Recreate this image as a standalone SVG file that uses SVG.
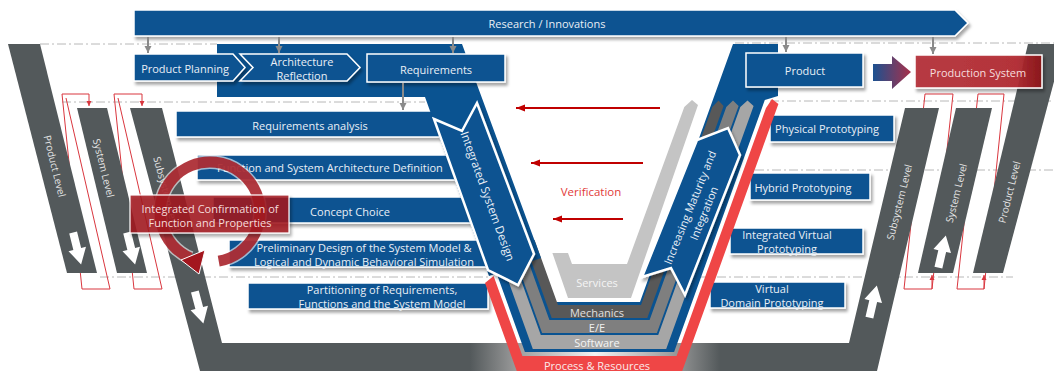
<svg xmlns="http://www.w3.org/2000/svg" width="1054" height="371" viewBox="0 0 1054 371">
<defs>
<style>
.t{font-family:"Open Sans","Noto Sans","DejaVu Sans",sans-serif;font-size:11px;fill:#e9eff6;text-anchor:middle;dominant-baseline:central}
.lv{font-family:"Open Sans","Noto Sans","DejaVu Sans",sans-serif;font-size:10px;fill:#e6e6e6;text-anchor:middle;dominant-baseline:central}
.box{fill:#0a5391;stroke:#fff;stroke-width:1.5}
.blue{fill:#0a5391}
.dd{stroke:#b8b8b8;stroke-width:1;stroke-dasharray:9 3 2 3;fill:none}
.band{fill:#53595b}
.loop{fill:none;stroke:#d9363e;stroke-width:1}
.ga{stroke:#8a8a8a;stroke-width:2;fill:none;marker-end:url(#ag)}
.va{stroke:#c00000;stroke-width:2;fill:none;marker-end:url(#ar)}
.wa{fill:#fff}
</style>
<filter id="sh" x="-10%" y="-20%" width="130%" height="160%">
<feDropShadow dx="2" dy="3" stdDeviation="1.5" flood-color="#000" flood-opacity="0.35"/>
</filter>
<marker id="ag" markerWidth="8" markerHeight="8" refX="7" refY="4" orient="auto" markerUnits="userSpaceOnUse"><path d="M0,0.5 L7,4 L0,7.5 Z" fill="#8a8a8a"/></marker>
<marker id="ar" markerWidth="10" markerHeight="8" refX="9" refY="4" orient="auto" markerUnits="userSpaceOnUse"><path d="M0,0.5 L9,4 L0,7.5 Z" fill="#c00000"/></marker>
<marker id="al" markerWidth="6" markerHeight="6" refX="5" refY="3" orient="auto" markerUnits="userSpaceOnUse"><path d="M0,0.5 L5,3 L0,5.5 Z" fill="#d9363e"/></marker>
<linearGradient id="gr" x1="0" y1="0" x2="1" y2="0"><stop offset="0" stop-color="#1c5190"/><stop offset="1" stop-color="#a8304a"/></linearGradient>
<linearGradient id="glow" gradientUnits="userSpaceOnUse" x1="470" y1="0" x2="720" y2="0"><stop offset="0" stop-color="#53595b"/><stop offset="0.2" stop-color="#a0a0a0"/><stop offset="0.5" stop-color="#f2f2f2"/><stop offset="0.8" stop-color="#a0a0a0"/><stop offset="1" stop-color="#53595b"/></linearGradient>
<linearGradient id="redg" x1="0" y1="0" x2="1" y2="0"><stop offset="0" stop-color="#b5323a"/><stop offset="0.8" stop-color="#b22a31"/><stop offset="1" stop-color="#8e1418"/></linearGradient>
</defs>

<g id="gridlines">
<path class="dd" d="M40,44 H217"/>
<path class="dd" d="M735,43 H1054"/>
<path class="dd" d="M62,102 H425"/>
<path class="dd" d="M770,101 H1054"/>
<path class="dd" d="M755,170 H1054"/>
<path class="dd" d="M100,277 H490"/>
<path class="dd" d="M700,277 H1013"/>
</g>

<g id="loops">
<path class="loop" d="M66,98 L110,289 H82 L62,94 H89 V106" marker-end="url(#al)"/>
<path class="loop" d="M118,98 L162,289 H134 L114,94 H142 V106" marker-end="url(#al)"/>
<path class="loop" d="M925,94 H953 L932,289 M925,94 L904,289 H932 V275" marker-end="url(#al)"/>
<path class="loop" d="M978,94 H1004 L984,289 M978,94 L957,289 H984 V275" marker-end="url(#al)"/>
</g>

<g id="levels">
<polygon class="band" points="8,44 40,44 97,273 67,273"/>
<polygon class="band" points="77,108 107,108 147,273 117,273"/>
<polygon class="band" points="130,108 162,108 222,343 849,343 905,108 939,108 877,371 200,371"/>
<rect x="440" y="343" width="290" height="28" fill="url(#glow)"/>
<polygon class="band" points="956,108 992,108 953,273 918,273"/>
<polygon class="band" points="1028,44 1064,44 1003,273 973,273"/>
<text class="lv" transform="translate(55,166) rotate(76)">Product Level</text>
<text class="lv" transform="translate(104,168) rotate(76)">System Level</text>
<text class="lv" transform="translate(167,194) rotate(75)">Subsystem Level</text>
<text class="lv" transform="translate(899,202) rotate(-76)">Subsystem Level</text>
<text class="lv" transform="translate(956,193) rotate(-76)">System Level</text>
<text class="lv" transform="translate(1009,192) rotate(-76)">Product Level</text>
<path class="wa" transform="translate(77,248) rotate(-14)" d="M-4,-16 L4,-16 L4,1 L9,1 L0,17 L-9,1 L-4,1 Z"/>
<path class="wa" transform="translate(131,248) rotate(-14)" d="M-4,-16 L4,-16 L4,1 L9,1 L0,17 L-9,1 L-4,1 Z"/>
<path class="wa" transform="translate(199,307) rotate(-15)" d="M-4,-16 L4,-16 L4,1 L9,1 L0,17 L-9,1 L-4,1 Z"/>
<path class="wa" transform="translate(873,302) rotate(13)" d="M-4,16 L4,16 L4,-1 L9,-1 L0,-17 L-9,-1 L-4,-1 Z"/>
<path class="wa" transform="translate(942,252) rotate(13)" d="M-4,16 L4,16 L4,-1 L9,-1 L0,-17 L-9,-1 L-4,-1 Z"/>
</g>

<g id="left-boxes">
<g id="req-analysis"><rect class="box" x="176" y="111" width="268" height="26" filter="url(#sh)"/><text class="t" x="310" y="125">Requirements analysis</text></g>
<g id="function-def"><rect class="box" x="197" y="155" width="266" height="25" filter="url(#sh)"/><text class="t" x="330" y="167">Function and System Architecture Definition</text></g>
<g id="concept"><rect class="box" x="213" y="197" width="267" height="26" filter="url(#sh)"/><text class="t" x="350" y="211">Concept Choice</text></g>
<g id="preliminary"><rect class="box" x="229" y="240" width="261" height="27" filter="url(#sh)"/><text class="t" x="364" y="247">Preliminary Design of the System Model &amp;</text><text class="t" x="364" y="261">Logical and Dynamic Behavioral Simulation</text></g>
<g id="partitioning"><rect class="box" x="248" y="283" width="240" height="26" filter="url(#sh)"/><text class="t" x="382" y="289">Partitioning of Requirements,</text><text class="t" x="382" y="303">Functions and the System Model</text></g>
</g>

<g id="right-boxes">
<g id="physical"><rect class="box" x="770" y="115" width="124" height="27" filter="url(#sh)"/><text class="t" x="827" y="128">Physical Prototyping</text></g>
<g id="hybrid"><rect class="box" x="750" y="173" width="120" height="27" filter="url(#sh)"/><text class="t" x="803" y="187">Hybrid Prototyping</text></g>
<g id="int-virtual"><rect class="box" x="730" y="228" width="133" height="26" filter="url(#sh)"/><text class="t" x="787" y="234">Integrated Virtual</text><text class="t" x="787" y="248">Prototyping</text></g>
<g id="virtual-domain"><rect class="box" x="710" y="282" width="135" height="26" filter="url(#sh)"/><text class="t" x="772" y="288">Virtual</text><text class="t" x="772" y="302">Domain Prototyping</text></g>
</g>

<g id="v-model">
<path class="blue" d="M733,44 L778,44 L778,96 L764.8,100 L674.1,352 L524.9,352 L490,255 L538.8,255 L556,302 L640,302 Z"/>
<path fill="#ef4646" d="M766,108 L772,99 L778.4,104 L677.2,385 L521.8,385 L485,283 L493.6,276 L522.4,356 L676.6,356 Z"/>
<path fill="#a6a6a6" d="M740.3,107 L747.5,100.5 L753.6,106 L666.2,349 L532.8,349 L493.6,240 L506.6,240 L540.8,335 L658.2,335 Z"/>
<path fill="#7f7f7f" d="M726.3,107 L733,100.5 L738.6,106 L656.9,333 L542.1,333 L508.6,240 L520.6,240 L549.4,320 L649.6,320 Z"/>
<path fill="#585858" d="M712.3,107 L718.5,100.5 L723.6,106 L647.3,318 L551.7,318 L523.6,240 L534.6,240 L558,305 L641,305 Z"/>
<path fill="#c4c4c4" d="M684.3,107 L692,100 L698,105 L631,298 L568,298 L552.4,253 L568,253 L572,264 L627,264 Z"/>
<text class="t" x="597" y="282" style="fill:#f4f4f4">Services</text>
<text class="t" x="597" y="312" style="fill:#e0e0e0">Mechanics</text>
<text class="t" x="597" y="327" style="fill:#f0f0f0">E/E</text>
<text class="t" x="597" y="342" style="fill:#f4f4f4">Software</text>
<text class="t" x="597" y="365" style="fill:#fbeaea">Process &amp; Resources</text>
</g>

<g id="integrated-system-design">
<polygon class="blue" points="217,44 462,44 541,258 489,276 425,97 217,97"/>
<path d="M434,119 L462,131 L477,103 L534,254 L518,285 L488,270 Z" class="blue" stroke="#fff" stroke-width="2.5" filter="url(#sh)"/>
<text class="t" style="font-size:11.5px" transform="translate(488,196) rotate(70)">Integrated System Design</text>
</g>

<g id="increasing-maturity">
<path d="M642,277 L671,268 L685,295 L740,155 L728,128 L697,140 Z" class="blue" stroke="#fff" stroke-width="2.5" filter="url(#sh)"/>
<text class="t" transform="translate(696,210) rotate(-68)"><tspan x="0" y="-7.5">Increasing Maturity and</tspan><tspan x="0" y="7.5">Integration</tspan></text>
</g>

<g id="research">
<path d="M134,10 H955 L968,23 L955,36 H134 Z" class="box" filter="url(#sh)"/>
<text class="t" x="547" y="23">Research / Innovations</text>
</g>

<g id="top-boxes">
<g id="product-planning"><path class="box" d="M134,54 H233 L245,67.5 L233,81 H134 Z" filter="url(#sh)"/><text class="t" x="185" y="68">Product Planning</text></g>
<g id="architecture"><path class="box" d="M240,54 H347 L360,67.5 L347,81 H240 L253,67.5 Z" filter="url(#sh)"/><text class="t" x="302" y="61">Architecture</text><text class="t" x="302" y="75">Reflection</text></g>
<g id="requirements"><rect class="box" x="367" y="54" width="138" height="28" filter="url(#sh)"/><text class="t" x="436" y="69">Requirements</text></g>
<g id="product"><rect class="box" x="746" y="53" width="117" height="34" filter="url(#sh)"/><text class="t" x="805" y="70">Product</text></g>
<g id="production-system"><rect x="915" y="55" width="127" height="33" fill="url(#redg)" fill-opacity="0.93" stroke="#fff" stroke-width="1.5" filter="url(#sh)"/><text class="t" x="978" y="72" style="fill:#f6dede">Production System</text></g>
</g>

<g id="confirmation">
<path d="M218.7,261.2 A50,50 0 1 0 190.5,258" fill="none" stroke="#fff" stroke-width="14" stroke-opacity="0.6"/>
<path d="M218.7,261.2 A50,50 0 1 0 190.5,258" fill="none" stroke="#a3161e" stroke-width="11" stroke-opacity="0.85"/>
<path d="M181,260 L205,250 L199,274 Z" fill="#a3161e" stroke="#fff" stroke-width="1"/>
<rect x="130" y="195" width="159" height="38" fill="#a3161e" fill-opacity="0.85" stroke="#fff" stroke-width="1.2" filter="url(#sh)"/>
<text class="t" x="210" y="208" style="fill:#f5dcdc">Integrated Confirmation of</text>
<text class="t" x="210" y="222" style="fill:#f5dcdc">Function and Properties</text>
</g>

<g id="connectors">
<line class="ga" x1="148" y1="37" x2="148" y2="53"/>
<line class="ga" x1="279" y1="37" x2="279" y2="53"/>
<line class="ga" x1="453" y1="37" x2="453" y2="53"/>
<line class="ga" x1="786" y1="37" x2="786" y2="52"/>
<line class="ga" x1="933" y1="37" x2="933" y2="54"/>
<line class="ga" x1="403" y1="83" x2="403" y2="110"/>
<path d="M873,64 H892 V56 L911,72 L892,89 V81 H873 Z" fill="url(#gr)"/>
<line class="va" x1="660" y1="108" x2="516" y2="108"/>
<line class="va" x1="643" y1="163" x2="531" y2="163"/>
<line class="va" x1="623" y1="219" x2="553" y2="219"/>
<text x="591" y="191" style="font-family:'Open Sans','Noto Sans',sans-serif;font-size:11.5px;fill:#e23a3a;text-anchor:middle;dominant-baseline:central">Verification</text>
</g>
</svg>
